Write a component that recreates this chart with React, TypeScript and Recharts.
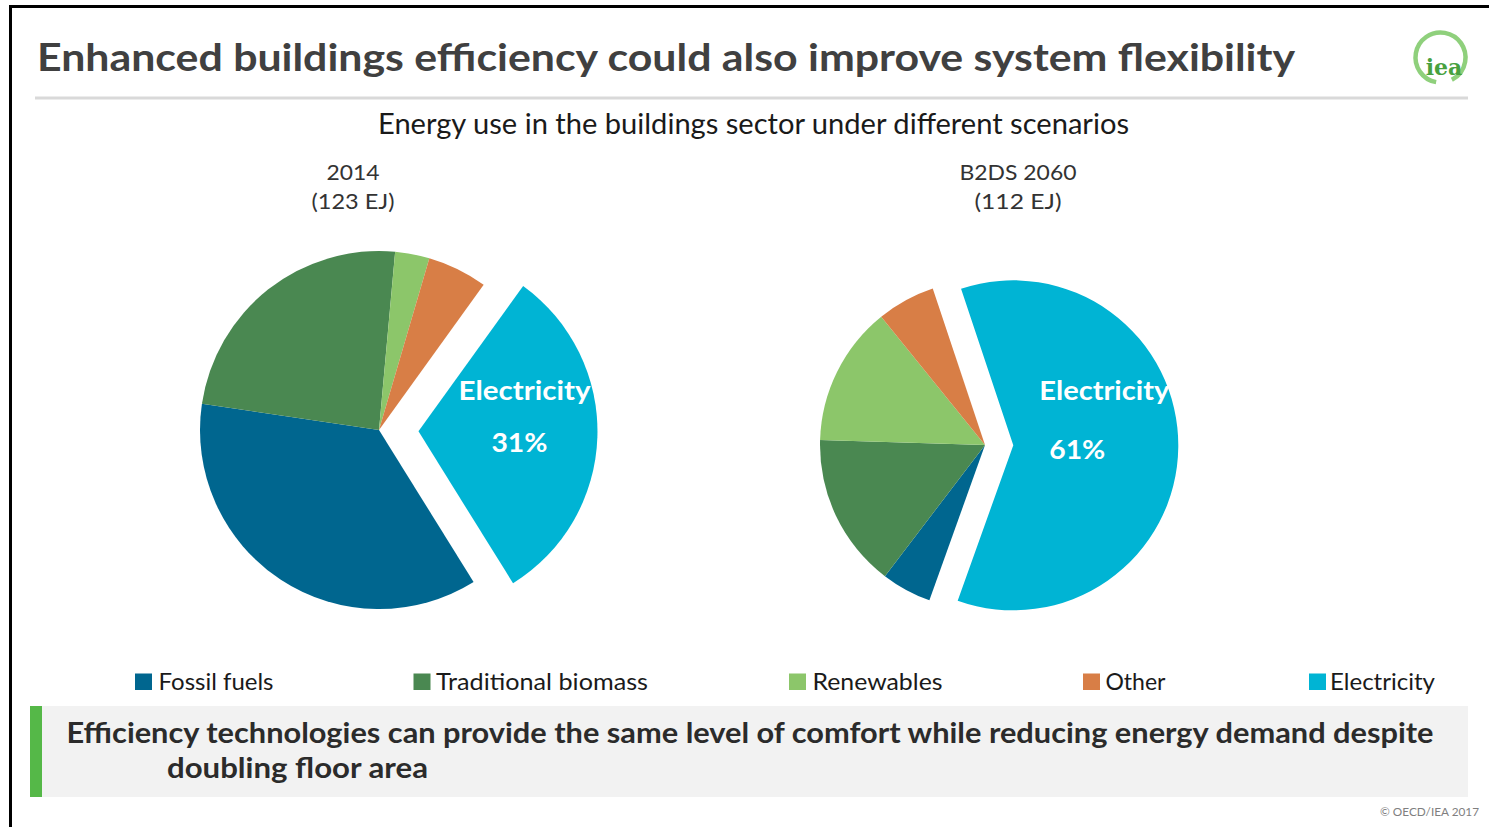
import React from "react";
import { PieChart, Pie, Cell } from "recharts";

// ---- data ----
const CATEGORIES = ["Fossil fuels", "Traditional biomass", "Renewables", "Other", "Electricity"];
const SHARE_2014 = [36.2, 24.1, 3.1, 5.4, 31.2];
const SHARE_2060 = [4.9, 15.1, 13.7, 5.7, 60.6];
const PIE_TITLES = [
  ["2014", "(123 EJ)"],
  ["B2DS 2060", "(112 EJ)"],
];
const TITLE = "Enhanced buildings efficiency could also improve system flexibility";
const SUBTITLE = "Energy use in the buildings sector under different scenarios";
const MESSAGE = [
  "Efficiency technologies can provide the same level of comfort while reducing energy demand despite",
  "doubling floor area",
];

// ---- styles / layout ----
const COLORS = ["#00668f", "#4a8851", "#8cc66a", "#d87e46", "#00b4d4"];
const EXPLODED = 4; // electricity
const W = 1489;
const H = 827;
const FONT = "Lato, 'Noto Sans', sans-serif";

const PIES = [
  { cx: 379, cy: 430, r: 179, start: -58.1, explode: 39.5, nameOff: [106, -31, 132], pctOff: [101, 21, 56], titleX: 353, titleW: [53, 83] },
  { cx: 985, cy: 445, r: 165, start: -109.7, explode: 28.3, nameOff: [91, -45, 130], pctOff: [64, 14, 56], titleX: 1018, titleW: [117, 87] },
];
const LEGEND_X = [
  [135, 158.5, 115],
  [413.5, 436, 212],
  [789, 812.5, 130],
  [1083, 1105.5, 60],
  [1309, 1330, 105],
];

function Txt({ x, y, w, size, weight = 400, fill = "#262626", anchor = "start", family = FONT, children }: any) {
  return (
    <text
      x={x}
      y={y}
      fontSize={size}
      fontWeight={weight}
      fill={fill}
      textAnchor={anchor}
      fontFamily={family}
      textLength={w}
      lengthAdjust="spacingAndGlyphs"
    >
      {children}
    </text>
  );
}

function makeLabel(cfg: (typeof PIES)[number]) {
  return (props: any) => {
    if (props.index !== EXPLODED) return <g />;
    const { cx, cy, percent } = props;
    return (
      <g>
        <Txt x={cx + cfg.nameOff[0]} y={cy + cfg.nameOff[1]} w={cfg.nameOff[2]} size={27} weight={700} fill="#fff" anchor="middle">
          {CATEGORIES[EXPLODED]}
        </Txt>
        <Txt x={cx + cfg.pctOff[0]} y={cy + cfg.pctOff[1]} w={cfg.pctOff[2]} size={27} weight={700} fill="#fff" anchor="middle">
          {`${Math.round(percent * 100)}%`}
        </Txt>
      </g>
    );
  };
}

function ScenarioPie({ shares, cfg, k }: any) {
  const data = CATEGORIES.map((name, i) => ({ name, value: shares[i] }));
  const total = shares.reduce((a: number, b: number) => a + b, 0);
  const end = cfg.start - 360;
  const span = (360 * shares[EXPLODED]) / total;
  const mid = ((end + span / 2) * Math.PI) / 180;
  const ex = cfg.cx + cfg.explode * Math.cos(mid);
  const ey = cfg.cy - cfg.explode * Math.sin(mid);
  return [
    <Pie
      key={`${k}-base`}
      data={data}
      dataKey="value"
      cx={cfg.cx}
      cy={cfg.cy}
      outerRadius={cfg.r}
      startAngle={cfg.start}
      endAngle={end}
      stroke="none"
      isAnimationActive={false}
    >
      {data.map((d, i) => (
        <Cell key={d.name} fill={i === EXPLODED ? "transparent" : COLORS[i]} />
      ))}
    </Pie>,
    <Pie
      key={`${k}-exploded`}
      data={data}
      dataKey="value"
      cx={ex}
      cy={ey}
      outerRadius={cfg.r}
      startAngle={cfg.start}
      endAngle={end}
      stroke="none"
      label={makeLabel(cfg)}
      labelLine={false}
      isAnimationActive={false}
    >
      {data.map((d, i) => (
        <Cell key={d.name} fill={i === EXPLODED ? COLORS[i] : "transparent"} />
      ))}
    </Pie>,
  ];
}

export default function App() {
  return (
    <div style={{ position: "fixed", left: 0, top: 0, width: W, height: H, background: "#fff", overflow: "hidden" }}>
      <svg width={W} height={H} style={{ position: "absolute", left: 0, top: 0 }}>
        {/* frame */}
        <rect x={9} y={5} width={W - 9} height={3} fill="#000" />
        <rect x={9} y={5} width={3} height={H - 5} fill="#000" />

        <Txt x={37} y={71} w={1258} size={38} weight={700} fill="#404040">
          {TITLE}
        </Txt>
        <rect x={35} y={96.5} width={1433} height={3} fill="#d9d9d9" />

        {/* iea logo */}
        <circle cx={1440.5} cy={57.5} r={25} fill="none" stroke="#8fd07c" strokeWidth={4.5} strokeDasharray="140 17" transform="rotate(100 1440.5 57.5)" />
        <text x={1444} y={75} fontSize={22} fontWeight={700} fill="#47a13f" textAnchor="middle" fontFamily="'DejaVu Serif', 'Liberation Serif', serif">
          iea
        </text>

        <Txt x={753.5} y={134} w={751} size={28} fill="#1a1a1a" anchor="middle">
          {SUBTITLE}
        </Txt>

        {PIES.map((p, i) => (
          <g key={i}>
            <Txt x={p.titleX} y={180} w={p.titleW[0]} size={21} fill="#333" anchor="middle">
              {PIE_TITLES[i][0]}
            </Txt>
            <Txt x={p.titleX} y={209} w={p.titleW[1]} size={21} fill="#333" anchor="middle">
              {PIE_TITLES[i][1]}
            </Txt>
          </g>
        ))}

        {/* legend */}
        {CATEGORIES.map((c, i) => (
          <g key={c}>
            <rect x={LEGEND_X[i][0]} y={673.5} width={17} height={16.5} fill={COLORS[i]} />
            <Txt x={LEGEND_X[i][1]} y={690} w={LEGEND_X[i][2]} size={23} fill="#1a1a1a">
              {c}
            </Txt>
          </g>
        ))}

        {/* key message box */}
        <rect x={30} y={706} width={1438} height={91} fill="#f2f2f2" />
        <rect x={30} y={706} width={12} height={91} fill="#55b848" />
        <Txt x={66.5} y={743} w={1367} size={28} weight={700} fill="#2b2b2b">
          {MESSAGE[0]}
        </Txt>
        <Txt x={167} y={778} w={261} size={28} weight={700} fill="#2b2b2b">
          {MESSAGE[1]}
        </Txt>

        <Txt x={1380} y={816} w={99} size={11} fill="#7f7f7f">
          © OECD/IEA 2017
        </Txt>
      </svg>

      <div style={{ position: "absolute", left: 0, top: 0 }}>
        <PieChart width={W} height={H} margin={{ top: 0, right: 0, bottom: 0, left: 0 }}>
          {ScenarioPie({ shares: SHARE_2014, cfg: PIES[0], k: "p2014" })}
          {ScenarioPie({ shares: SHARE_2060, cfg: PIES[1], k: "p2060" })}
        </PieChart>
      </div>
    </div>
  );
}
